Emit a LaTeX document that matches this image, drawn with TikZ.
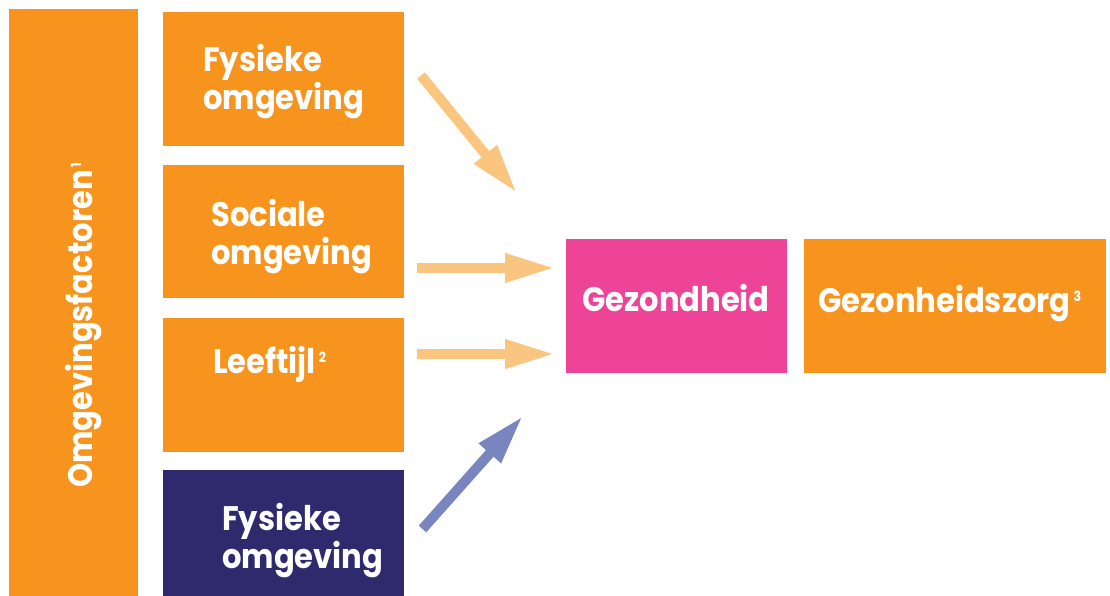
\documentclass[tikz,border=0pt]{standalone}
\usepackage{fontspec}
\setmainfont{Poppins}[BoldFont={* Bold}, FakeStretch=0.9]
\usetikzlibrary{arrows.meta}
\definecolor{orng}{HTML}{F7941E}
\definecolor{lorng}{HTML}{FAC57F}
\definecolor{pinkc}{HTML}{EE4497}
\definecolor{navyc}{HTML}{2E2A6D}
\definecolor{bluec}{HTML}{7885BF}
\newcommand\supx[1]{\hspace{3pt}\raisebox{11pt}{\fontsize{14}{14}\selectfont #1}}
\tikzset{
  box/.style={draw=none, inner sep=0pt, anchor=north west},
  lbl/.style={inner sep=0pt, anchor=base west, text=white, align=left,
    font=\bfseries\fontsize{34}{38}\selectfont},
  bigarrow/.style={line width=10pt, -{Triangle[length=50pt,width=27pt]}},
}
\begin{document}
\begin{tikzpicture}[x=1pt,y=-1pt]
\useasboundingbox (0,0) rectangle (1110,596);
% boxes
\node[box, fill=orng, minimum width=129pt, minimum height=587pt] (bar) at (9,9) {};
\node[box, fill=orng, minimum width=241pt, minimum height=134pt] (b1) at (163,12) {};
\node[box, fill=orng, minimum width=241pt, minimum height=133pt] (b2) at (163,165) {};
\node[box, fill=orng, minimum width=241pt, minimum height=134pt] (b3) at (163,318) {};
\node[box, fill=navyc, minimum width=241pt, minimum height=126pt] (b4) at (163,470) {};
\node[box, fill=pinkc, minimum width=221pt, minimum height=134pt] (gz) at (566,239) {};
\node[box, fill=orng, minimum width=302pt, minimum height=134pt] (zorg) at (804,239) {};
% labels (base anchor = last line)
\node[lbl, rotate=90] (tbar) at (92,488) {Omgevingsfactoren\supx{1}};
\node[lbl] (t1) at (203,110) {Fysieke\\omgeving};
\node[lbl] (t2) at (211,264) {Sociale\\omgeving};
\node[lbl] (t3) at (213,373) {Leeftijl\supx{2}};
\node[lbl] (t4) at (222,568) {Fysieke\\omgeving};
\node[lbl] (tgz) at (582,311) {Gezondheid};
\node[lbl] (tzorg) at (818,312) {Gezonheidszorg\supx{3}};
% arrow ends
\coordinate (s1) at (421,75.5);  \coordinate (e1) at (517,193);
\coordinate (s2) at (417,268);   \coordinate (e2) at (555,268);
\coordinate (s3) at (417,354);   \coordinate (e3) at (555,354);
\coordinate (s4) at (422.5,529); \coordinate (e4) at (523,416);
\draw[bigarrow, lorng] (s1) -- (e1);
\draw[bigarrow, lorng] (s2) -- (e2);
\draw[bigarrow, lorng] (s3) -- (e3);
\draw[bigarrow, bluec] (s4) -- (e4);
\end{tikzpicture}
\end{document}
